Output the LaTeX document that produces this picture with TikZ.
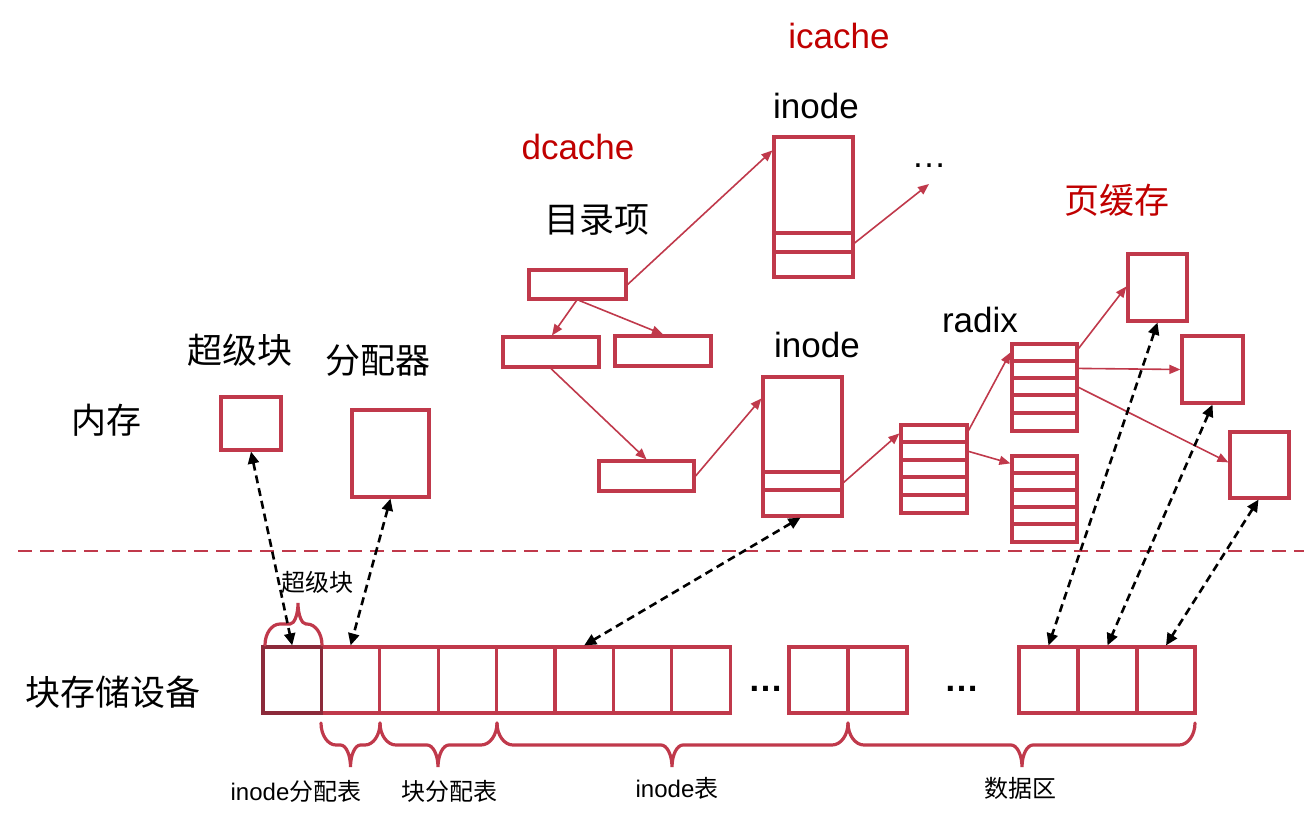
\documentclass[tikz,border=0pt]{standalone}
\usepackage{fontspec}
\setmainfont{Liberation Sans}
\newfontfamily\cjk{Noto Sans CJK SC}
\usetikzlibrary{arrows.meta}
\definecolor{boxred}{RGB}{192,57,75}
\definecolor{darkred}{RGB}{140,42,58}
\definecolor{txtred}{RGB}{192,0,0}
% #1 x1, #2 x2, #3 xm (tip), #4 y0, #5 depth d, #6 corner radius r, #7 tip radius t
\newcommand{\mybrace}[7]{%
  \draw[bracestyle] (#1,#4)
    .. controls (#1,{#4+0.55*(#5)/2}) and ({#1+0.45*#6},{#4+(#5)/2}) .. ({#1+#6},{#4+(#5)/2})
    -- ({#3-#7},{#4+(#5)/2})
    .. controls ({#3-0.45*#7},{#4+(#5)/2}) and (#3,{#4+(#5)/2+0.45*(#5)/2}) .. (#3,{#4+(#5)})
    .. controls (#3,{#4+(#5)/2+0.45*(#5)/2}) and ({#3+0.45*#7},{#4+(#5)/2}) .. ({#3+#7},{#4+(#5)/2})
    -- ({#2-#6},{#4+(#5)/2})
    .. controls ({#2-0.45*#6},{#4+(#5)/2}) and (#2,{#4+0.55*(#5)/2}) .. (#2,#4);}
\begin{document}
\begin{tikzpicture}[x=1pt,y=-1pt,
  box/.style={draw=boxred, line width=3.2pt, inner sep=0pt},
  rowline/.style={draw=boxred, line width=3.2pt},
  bracestyle/.style={draw=boxred, line width=3.2pt, line cap=round},
  lbl/.style={inner sep=0pt, font=\fontsize{35}{40}\selectfont},
  small/.style={inner sep=0pt, font=\fontsize{24}{28}\selectfont},
  redarr/.style={draw=boxred, line width=1.6pt, -{Triangle[length=11pt,width=9pt]}},
  blkarr/.style={draw=black, line width=2.6pt, dash pattern=on 8pt off 5pt, {Triangle[length=12pt,width=11pt]}-{Triangle[length=12pt,width=11pt]}}
]
\fill[white] (0,0) rectangle (1304,820);
\useasboundingbox (0,0) rectangle (1304,820);

% separator
\draw[draw=boxred, line width=2.5pt, dash pattern=on 14pt off 8pt] (18,551) -- (1304,551);

% labels
\node[lbl, text=txtred] (licache) at (839,36) {icache};
\node[lbl] (linodeA) at (816,106) {inode};
\node[lbl, text=txtred] (ldcache) at (578,147) {dcache};
\node[lbl] (ldentry) at (597,220) {\cjk 目录项};
\node[lbl, text=txtred] (lpage) at (1117,200) {\cjk 页缓存};
\node[lbl] (lradix) at (980,320) {radix};
\node[lbl] (linodeB) at (817,345) {inode};
\node[lbl] (lsb) at (240,350) {\cjk 超级块};
\node[lbl] (lalloc) at (378,361) {\cjk 分配器};
\node[lbl] (lmem) at (106,420) {\cjk 内存};
\node[lbl] (ldisk) at (113,692) {\cjk 块存储设备};
\node[small] (lsb2) at (317,582) {\cjk 超级块};
\node[small] (linodemap) at (296,791) {inode{\cjk 分配表}};
\node[small] (lblockmap) at (449,791) {\cjk 块分配表};
\node[small] (linodetab) at (677,788) {inode{\cjk 表}};
\node[small] (ldata) at (1020,788) {\cjk 数据区};
\node[lbl, anchor=base] (dots1) at (929,167) {…};
\node[inner sep=0pt, font=\fontsize{35}{40}\selectfont\bfseries, anchor=base] (dots2) at (766,691) {…};
\node[inner sep=0pt, font=\fontsize{35}{40}\selectfont\bfseries, anchor=base] (dots3) at (962,691) {…};
\coordinate (tipdots) at (929,184);

% memory boxes
\node[box, minimum width=60pt, minimum height=53pt] (sbm) at (251,423.5) {};
\node[box, minimum width=77pt, minimum height=87pt] (alloc) at (390.5,453.5) {};

% dentries
\node[box, minimum width=97pt, minimum height=29pt] (d0) at (577.5,284.5) {};
\node[box, minimum width=96pt, minimum height=30pt] (d1) at (551,352) {};
\node[box, minimum width=96pt, minimum height=30pt] (d2) at (663,351) {};
\node[box, minimum width=95pt, minimum height=30pt] (d3) at (646.5,476) {};

% inodes
\node[box, minimum width=79pt, minimum height=140pt] (inodeA) at (813.5,207) {};
\draw[rowline] (774,233) -- (853,233);
\draw[rowline] (774,252) -- (853,252);
\node[box, minimum width=79pt, minimum height=139pt] (inodeB) at (802.5,446.5) {};
\draw[rowline] (763,472) -- (844,472);
\draw[rowline] (763,490) -- (842,490);

% radix nodes
\node[box, minimum width=66pt, minimum height=88pt] (radix1) at (934,469) {};
\foreach \yy in {442,460,477,495} \draw[rowline] (901,\yy) -- (967,\yy);
\node[box, minimum width=65pt, minimum height=87pt] (radix2) at (1044.5,387.5) {};
\foreach \yy in {361,378,395,413} \draw[rowline] (1012,\yy) -- (1077,\yy);
\node[box, minimum width=65pt, minimum height=86pt] (radix3) at (1044.5,499) {};
\foreach \yy in {473,490,507,524} \draw[rowline] (1012,\yy) -- (1077,\yy);

% pages
\node[box, minimum width=59pt, minimum height=67pt] (P1) at (1157.5,287.5) {};
\node[box, minimum width=61pt, minimum height=67pt] (P2) at (1212.5,369.5) {};
\node[box, minimum width=59pt, minimum height=66pt] (P3) at (1259.5,465) {};

% disk blocks
\foreach \i in {2,...,8} \node[box, minimum width=58.4pt, minimum height=66pt] (b\i) at ({263+58.4*(\i-0.5)},680) {};
\node[box, draw=darkred, minimum width=58.4pt, minimum height=66pt] (b1) at (292.2,680) {};
\node[box, minimum width=59pt, minimum height=66pt] (b9) at (818.5,680) {};
\node[box, minimum width=59pt, minimum height=66pt] (b10) at (877.5,680) {};
\node[box, minimum width=59pt, minimum height=66pt] (b11) at (1048.5,680) {};
\node[box, minimum width=59pt, minimum height=66pt] (b12) at (1107.5,680) {};
\node[box, minimum width=58pt, minimum height=66pt] (b13) at (1166,680) {};

% braces
\mybrace{265}{322}{298}{645}{-42}{15}{8}
\mybrace{321}{380}{350.5}{723}{44}{15}{10}
\mybrace{380}{497}{438}{723}{44}{16}{11}
\mybrace{497}{848}{672}{723}{44}{16}{11}
\mybrace{848}{1195}{1022}{723}{44}{16}{11}

% red arrows
\draw[redarr] (d0.east) -- ([yshift=-15pt]inodeA.north west);
\draw[redarr] ([yshift=-36pt]inodeA.east) -- (tipdots);
\draw[redarr] ([xshift=-1pt]d0.south) -- ([xshift=1pt]d1.north);
\draw[redarr] ([xshift=2pt]d0.south) -- (d2.north);
\draw[redarr] (d1.south) -- (d3.north);
\draw[redarr] (d3.east) -- ([yshift=-23pt]inodeB.north west);
\draw[redarr] ([yshift=-36pt]inodeB.east) -- ([yshift=-10pt]radix1.north west);
\draw[redarr] ([yshift=-7pt]radix1.north east) -- ([yshift=-10pt]radix2.north west);
\draw[redarr] ([yshift=-28pt]radix1.north east) -- ([yshift=-9pt]radix3.north west);
\draw[redarr] ([yshift=-6pt]radix2.north east) -- ([yshift=-34pt]P1.north west);
\draw[redarr] ([yshift=-26pt]radix2.north east) -- (P2.west);
\draw[redarr] ([yshift=-45pt]radix2.north east) -- ([yshift=-32pt]P3.north west);

% black dashed double arrows
\draw[blkarr] (sbm.south) -- (b1.north);
\draw[blkarr] (alloc.south) -- (b2.north);
\draw[blkarr] ([xshift=-2pt]inodeB.south) -- (b6.north);
\draw[blkarr] (P1.south) -- (b11.north);
\draw[blkarr] (P2.south) -- (b12.north);
\draw[blkarr] ([xshift=-1pt]P3.south) -- (b13.north);
\end{tikzpicture}
\end{document}
